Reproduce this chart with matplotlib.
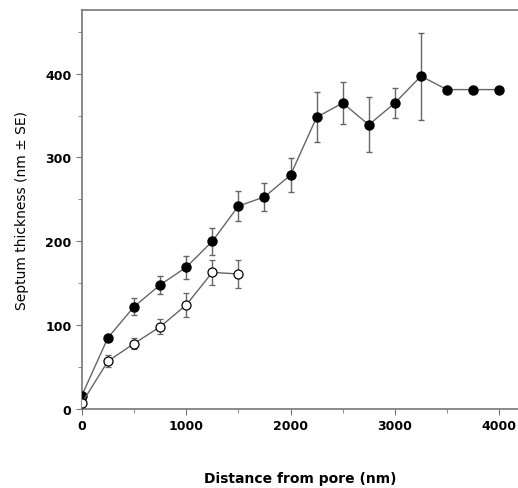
import matplotlib
matplotlib.use("Agg")
import matplotlib.pyplot as plt
from matplotlib.ticker import MultipleLocator

# filled circles
dist_a = [0, 250, 500, 750, 1000, 1250, 1500, 1750, 2000, 2250, 2500, 2750, 3000, 3250, 3500, 3750, 4000]
thick_a = [16, 85, 122, 148, 169, 200, 242, 253, 279, 348, 365, 339, 365, 397, 381, 381, 381]
se_a = [0, 0, 10, 11, 14, 16, 18, 17, 20, 30, 25, 33, 18, 52, 0, 0, 0]

# open circles
dist_b = [0, 250, 500, 750, 1000, 1250, 1500]
thick_b = [7, 57, 78, 98, 124, 163, 161]
se_b = [0, 7, 7, 9, 14, 15, 17]

plt.rcParams.update({"font.family": "DejaVu Sans"})
fig = plt.figure(figsize=(5.18, 4.89), dpi=100)
ax = fig.add_axes([0.158, 0.1616, 0.842, 0.816])

gray = "#666666"
ax.errorbar(dist_a, thick_a, yerr=se_a, fmt="-o", color=gray, lw=1.0, elinewidth=1.0,
            capsize=2, capthick=1.0, mfc="black", mec="black", ms=6.5, zorder=3)
ax.errorbar(dist_b, thick_b, yerr=se_b, fmt="-o", color=gray, lw=1.0, elinewidth=1.0,
            capsize=2, capthick=1.0, mfc="white", mec="black", ms=6.5, mew=0.9, zorder=3)

ax.set_xlim(0, 4180)
ax.set_ylim(0, 476)
ax.xaxis.set_major_locator(MultipleLocator(1000))
ax.xaxis.set_minor_locator(MultipleLocator(500))
ax.yaxis.set_major_locator(MultipleLocator(100))
ax.yaxis.set_minor_locator(MultipleLocator(50))
ax.spines["right"].set_visible(False)
for s in ("left", "top", "bottom"):
    ax.spines[s].set_color("#777777")
    ax.spines[s].set_linewidth(1.2)
ax.tick_params(which="both", direction="out", color="#777777", labelsize=9)
ax.tick_params(which="major", length=4)
ax.tick_params(which="minor", length=3)
for lab in ax.get_xticklabels() + ax.get_yticklabels():
    lab.set_fontweight("bold")

ax.set_ylabel("Septum thickness (nm \u00b1 SE)", fontsize=10, labelpad=12)
ax.set_xlabel("Distance from pore (nm)", fontsize=10, fontweight="bold", labelpad=28)

fig.savefig("out.png", dpi=100)
